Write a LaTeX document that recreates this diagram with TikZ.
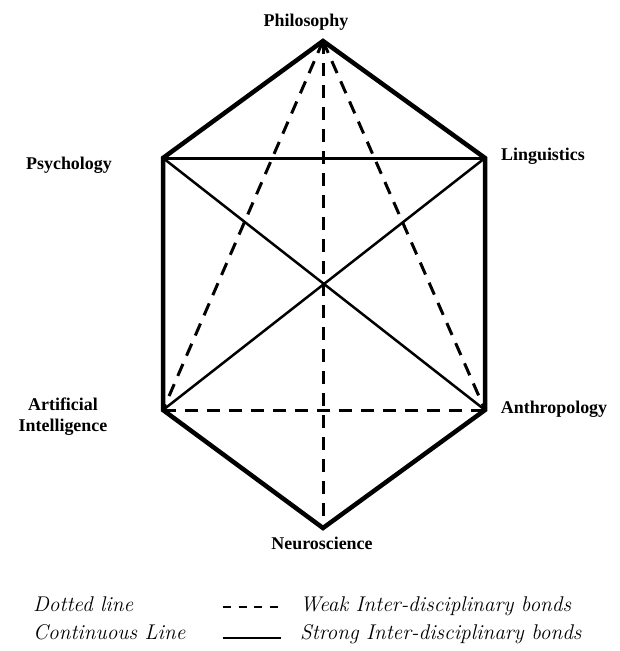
\documentclass[tikz,border=0pt]{standalone}
\usepackage{fontspec}
\newfontfamily\labfont{Liberation Serif}
\begin{document}
\begin{tikzpicture}[x=1bp,y=-1bp,
  lab/.style={font=\labfont\bfseries\fontsize{18}{21}\selectfont, align=center, inner sep=0pt},
  leg/.style={font=\itshape\fontsize{21.4}{25}\selectfont, anchor=base west, inner sep=0pt},
  strong/.style={line width=4.5bp, line join=miter, line cap=butt},
  mid/.style={line width=3bp},
  thin/.style={line width=2.5bp},
  weak/.style={line width=3bp, dash pattern=on 13bp off 9bp}]
\useasboundingbox (0,0) rectangle (620,651);
\coordinate (ph) at (323,41);
\coordinate (ps) at (163,158);
\coordinate (li) at (485,158);
\coordinate (ai) at (163,410);
\coordinate (an) at (485,410);
\coordinate (ne) at (323,528);
% weak
\draw[weak] (ph) -- (ai);
\draw[weak] (ph) -- (an);
\draw[weak] (ph) -- (ne);
\draw[weak] (ai) -- (an);
% strong inner
\draw[mid] (ps) -- (li);
\draw[thin] (ps) -- (an);
\draw[thin] (li) -- (ai);
% outer
\draw[strong] (ph) -- (li) -- (an) -- (ne) -- (ai) -- (ps) -- cycle;
% labels
\node[lab] (tph) at (306,22) {Philosophy};
\node[lab] (tps) at (69,165) {Psychology};
\node[lab] (tli) at (543,156) {Linguistics};
\node[lab] (tai) at (63,417) {Artificial\\Intelligence};
\node[lab] (tan) at (554,409) {Anthropology};
\node[lab] (tne) at (322,543) {Neuroscience};
% legend
\node[leg] (l1) at (33,611) {Dotted line};
\node[leg] (l2) at (33,639) {Continuous Line};
\node[leg] (w1) at (300,611) {Weak Inter-disciplinary bonds};
\node[leg] (w2) at (300,639) {Strong Inter-disciplinary bonds};
\coordinate (d1) at (223,607);
\coordinate (d2) at (278,607);
\draw[line width=1.6bp, dash pattern=on 8bp off 7.5bp] (d1) -- (d2);
\coordinate (s1) at (223,638);
\coordinate (s2) at (281,638);
\draw[line width=1.3bp] (s1) -- (s2);
\end{tikzpicture}
\end{document}
